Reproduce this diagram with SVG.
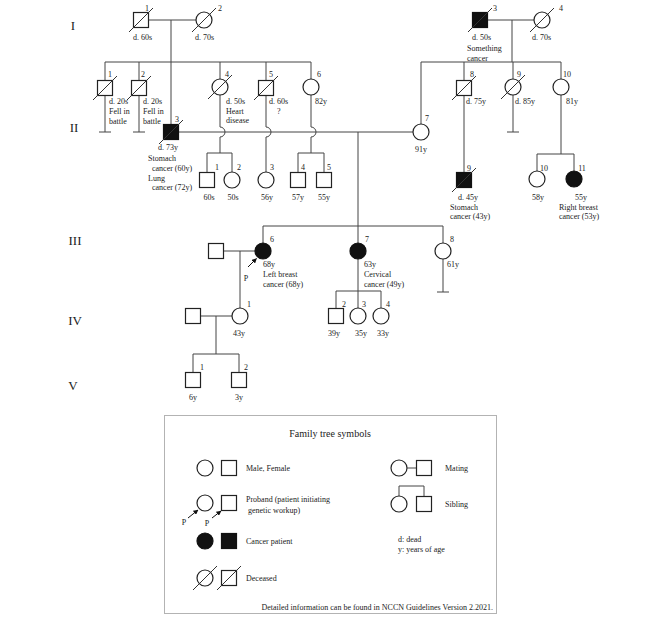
<svg xmlns="http://www.w3.org/2000/svg" width="666" height="619" viewBox="0 0 666 619">
<style>
 .n{fill:#fff;stroke:#222;stroke-width:1.2}
 .a{fill:#111;stroke:#111;stroke-width:1.2}
 .sl{stroke:#333;stroke-width:1;fill:none}
 .c{stroke:#444;stroke-width:1;fill:none}
 .ar{stroke:#111;stroke-width:1;fill:none}
 text{font-family:"Liberation Serif","Times New Roman",serif;font-size:8px;fill:#222}
 .gen{font-size:13px}
 .t{font-size:10px}
 .m{text-anchor:middle}
 .e{text-anchor:end}
 .box{fill:none;stroke:#666;stroke-width:1;stroke-dasharray:1 1}
</style>
<defs>
 <marker id="arr" viewBox="0 0 10 10" refX="9" refY="5" markerWidth="5" markerHeight="5" orient="auto"><path d="M0,0 L10,5 L0,10 z" fill="#111"/></marker>
</defs>
<rect width="666" height="619" fill="#fff"/>

<g id="generations">
 <text class="gen m" x="73" y="30">I</text>
 <text class="gen m" x="74" y="132">II</text>
 <text class="gen m" x="75" y="245">III</text>
 <text class="gen m" x="75" y="325">IV</text>
 <text class="gen m" x="73" y="390">V</text>
</g>

<g id="connectors" class="c">
 <path d="M149,20 H196 M171,20 V124 M105,62 H311 M105,62 V80 M139,62 V80 M220,62 V79 M266,62 V80 M311,62 V79"/>
 <path d="M105,96 V132 M99,132 H111 M139,96 V132 M133,132 H145"/>
 <path d="M488,20 H534 M512,20 V62 M421,62 H561 M421,62 V124 M464,62 V80 M513,62 V79 M561,62 V79"/>
 <path d="M513,95 V132 M507,132 H519"/>
 <path d="M179,132 H413"/>
 <path d="M220,95 V127 A5,5 0 0 1 220,137 V153 M207,153 H232 M207,153 V172 M232,153 V172"/>
 <path d="M266,96 V127 A5,5 0 0 1 266,137 V172"/>
 <path d="M311,95 V127 A5,5 0 0 1 311,137 V153 M298,153 H324 M298,153 V172 M324,153 V172"/>
 <path d="M464,96 V172"/>
 <path d="M561,95 V154 M537,154 H574 M537,154 V171 M574,154 V171"/>
 <path d="M358,132 V226 M263,226 H443 M263,226 V243 M358,226 V243 M443,226 V243"/>
 <path d="M224,251 H255 M240,251 V308"/>
 <path d="M443,259 V292 M437,292 H449"/>
 <path d="M358,259 V308 M336,291 H381 M336,291 V308.5 M381,291 V308"/>
 <path d="M201,316 H232 M216,316 V354 M193,354 H239 M193,354 V372.5 M239,354 V372.5"/>
 <path class="ar" d="M248,267 L256.5,258.5" marker-end="url(#arr)"/>
</g>

<g id="I-1"><rect class="n" x="133.5" y="12.5" width="15" height="15"/><path class="sl" d="M129,32 L153,8"/><text class="m" x="147" y="11">1</text><text x="133" y="40">d. 60s</text></g>
<g id="I-2"><circle class="n" cx="204" cy="20" r="8"/><path class="sl" d="M192,32 L216,8"/><text class="m" x="220" y="11">2</text><text x="195" y="40">d. 70s</text></g>
<g id="I-3"><rect class="a" x="472.5" y="12.5" width="15" height="15"/><path class="sl" d="M468,32 L492,8"/><text class="m" x="495" y="11">3</text><text x="472" y="40">d. 50s</text><text x="467" y="51">Something</text><text x="467" y="61">cancer</text></g>
<g id="I-4"><circle class="n" cx="542" cy="20" r="8"/><path class="sl" d="M530,32 L554,8"/><text class="m" x="561" y="11">4</text><text x="532" y="40">d. 70s</text></g>

<g id="II-1"><rect class="n" x="97.5" y="80.5" width="15" height="15"/><path class="sl" d="M93,100 L117,76"/><text class="m" x="110" y="77">1</text><text x="109" y="104">d. 20s</text><text x="109" y="114">Fell in</text><text x="109" y="124">battle</text></g>
<g id="II-2"><rect class="n" x="131.5" y="80.5" width="15" height="15"/><path class="sl" d="M127,100 L151,76"/><text class="m" x="143" y="77">2</text><text x="143" y="104">d. 20s</text><text x="143" y="114">Fell in</text><text x="143" y="124">battle</text></g>
<g id="II-3"><rect class="a" x="163.5" y="124.5" width="15" height="15"/><path class="sl" d="M159,144 L183,120"/><text class="m" x="177" y="122">3</text><text x="158" y="150">d. 73y</text><text x="148" y="161">Stomach</text><text x="152" y="171">cancer (60y)</text><text x="148" y="181">Lung</text><text x="152" y="190">cancer (72y)</text></g>
<g id="II-4"><circle class="n" cx="220" cy="87" r="8"/><path class="sl" d="M208,99 L232,75"/><text class="m" x="227" y="77">4</text><text x="226" y="104">d. 50s</text><text x="226" y="114">Heart</text><text x="226" y="123">disease</text></g>
<g id="II-5"><rect class="n" x="258.5" y="80.5" width="15" height="15"/><path class="sl" d="M254,100 L278,76"/><text class="m" x="271" y="77">5</text><text x="269" y="104">d. 60s</text><text x="277" y="114">?</text></g>
<g id="II-6"><circle class="n" cx="311" cy="87" r="8"/><text class="m" x="319" y="77">6</text><text x="315" y="104">82y</text></g>
<g id="II-7"><circle class="n" cx="421" cy="132" r="8"/><text class="m" x="427" y="121">7</text><text class="m" x="421" y="152">91y</text></g>
<g id="II-8"><rect class="n" x="456.5" y="80.5" width="15" height="15"/><path class="sl" d="M452,100 L476,76"/><text class="m" x="472" y="77">8</text><text x="466" y="104">d. 75y</text></g>
<g id="II-9"><circle class="n" cx="513" cy="87" r="8"/><path class="sl" d="M501,99 L525,75"/><text class="m" x="519" y="77">9</text><text x="515" y="104">d. 85y</text></g>
<g id="II-10"><circle class="n" cx="561" cy="87" r="8"/><text class="m" x="567" y="77">10</text><text x="566" y="104">81y</text></g>

<g id="C-1"><rect class="n" x="199.5" y="172.5" width="15" height="15"/><text class="m" x="217" y="170">1</text><text class="m" x="209" y="200">60s</text></g>
<g id="C-2"><circle class="n" cx="232" cy="180" r="8"/><text class="m" x="239" y="170">2</text><text class="m" x="233" y="200">50s</text></g>
<g id="C-3"><circle class="n" cx="266" cy="180" r="8"/><text class="m" x="272" y="170">3</text><text class="m" x="267" y="200">56y</text></g>
<g id="C-4"><rect class="n" x="290.5" y="172.5" width="15" height="15"/><text class="m" x="303" y="170">4</text><text class="m" x="298" y="200">57y</text></g>
<g id="C-5"><rect class="n" x="316.5" y="172.5" width="15" height="15"/><text class="m" x="329" y="170">5</text><text class="m" x="324" y="200">55y</text></g>
<g id="C-9"><rect class="a" x="456.5" y="172.5" width="15" height="15"/><path class="sl" d="M452,192 L476,168"/><text class="m" x="469" y="171">9</text><text x="458" y="200">d. 45y</text><text x="450" y="210">Stomach</text><text x="450" y="219">cancer (43y)</text></g>
<g id="C-10"><circle class="n" cx="537" cy="179" r="8"/><text class="m" x="544" y="171">10</text><text class="m" x="538" y="200">58y</text></g>
<g id="C-11"><circle class="a" cx="574" cy="179" r="8"/><text class="m" x="582" y="171">11</text><text class="m" x="581" y="200">55y</text><text x="559" y="210">Right breast</text><text x="559" y="219">cancer (53y)</text></g>

<g id="III-spouse"><rect class="n" x="208.5" y="243.5" width="15" height="15"/></g>
<g id="III-6"><circle class="a" cx="263" cy="251" r="8"/><text class="m" x="272" y="242">6</text><text class="m" x="246" y="281">P</text><text x="263" y="267">68y</text><text x="263" y="277">Left breast</text><text x="263" y="287">cancer (68y)</text></g>
<g id="III-7"><circle class="a" cx="358" cy="251" r="8"/><text class="m" x="367" y="242">7</text><text x="364" y="267">63y</text><text x="364" y="277">Cervical</text><text x="364" y="287">cancer (49y)</text></g>
<g id="III-8"><circle class="n" cx="443" cy="251" r="8"/><text class="m" x="452" y="242">8</text><text x="447" y="267">61y</text></g>

<g id="IV-spouse"><rect class="n" x="185.5" y="308.5" width="15" height="15"/></g>
<g id="IV-1"><circle class="n" cx="240" cy="316" r="8"/><text class="m" x="249" y="307">1</text><text class="m" x="239" y="336">43y</text></g>
<g id="IV-2"><rect class="n" x="328.5" y="308.5" width="15" height="15"/><text class="m" x="344" y="307">2</text><text class="m" x="334" y="336">39y</text></g>
<g id="IV-3"><circle class="n" cx="358" cy="316" r="8"/><text class="m" x="364" y="307">3</text><text class="m" x="361" y="336">35y</text></g>
<g id="IV-4"><circle class="n" cx="381" cy="316" r="8"/><text class="m" x="388" y="307">4</text><text class="m" x="383" y="336">33y</text></g>

<g id="V-1"><rect class="n" x="185.5" y="372.5" width="15" height="15"/><text class="m" x="202" y="370">1</text><text class="m" x="193" y="400">6y</text></g>
<g id="V-2"><rect class="n" x="231.5" y="372.5" width="15" height="15"/><text class="m" x="246" y="370">2</text><text class="m" x="239" y="400">3y</text></g>

<g id="legend">
 <rect class="box" x="164.5" y="415.5" width="332" height="198"/>
 <text class="t m" x="330" y="437">Family tree symbols</text>
 <circle class="n" cx="205" cy="468" r="8"/><rect class="n" x="221.5" y="460.5" width="15" height="15"/>
 <text x="246" y="471">Male, Female</text>
 <circle class="n" cx="205" cy="503" r="8"/><rect class="n" x="221.5" y="495.5" width="15" height="15"/>
 <path class="ar" d="M188,518 L198,510" marker-end="url(#arr)"/>
 <path class="ar" d="M212,518 L221,511" marker-end="url(#arr)"/>
 <text class="m" x="184" y="525">P</text><text class="m" x="207" y="526">P</text>
 <text x="246" y="502">Proband (patient initiating</text>
 <text x="248" y="513">genetic workup)</text>
 <circle class="a" cx="205" cy="541" r="8"/><rect class="a" x="221.5" y="533.5" width="15" height="15"/>
 <text x="246" y="544">Cancer patient</text>
 <circle class="n" cx="205" cy="578" r="8"/><path class="sl" d="M193,590 L217,566"/>
 <rect class="n" x="221.5" y="570.5" width="15" height="15"/><path class="sl" d="M217,590 L241,566"/>
 <text x="246" y="581">Deceased</text>
 <circle class="n" cx="399" cy="468" r="8"/><path class="c" d="M407,468 H416"/><rect class="n" x="416.5" y="460.5" width="15" height="15"/>
 <text x="445" y="471">Mating</text>
 <path class="c" d="M399,496 V486 H424 V496"/>
 <circle class="n" cx="399" cy="504" r="8"/><rect class="n" x="416.5" y="496.5" width="15" height="15"/>
 <text x="445" y="507">Sibling</text>
 <text x="398" y="542">d: dead</text>
 <text x="398" y="552">y: years of age</text>
 <text class="e" x="493" y="610">Detailed information can be found in NCCN Guidelines Version 2.2021.</text>
</g>
</svg>
